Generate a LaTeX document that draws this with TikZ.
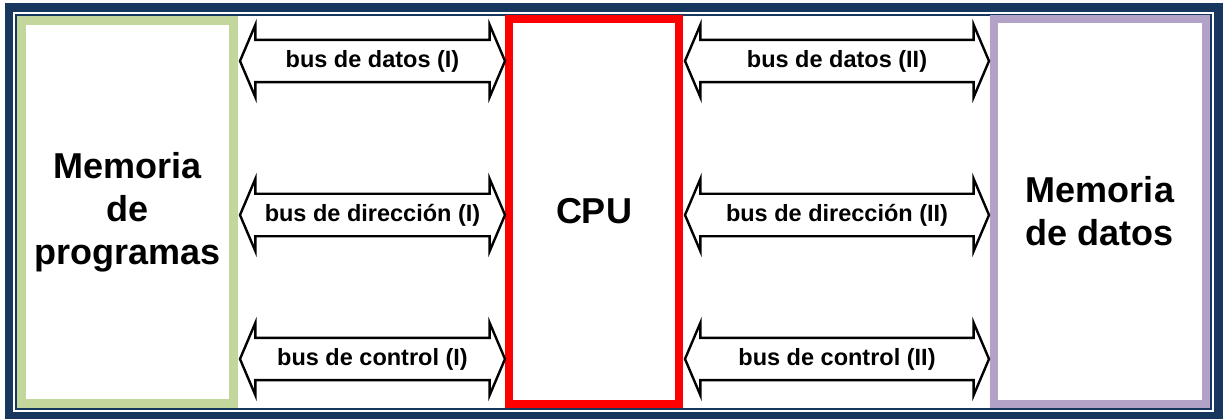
\documentclass[tikz,border=0pt]{standalone}
\usepackage{fontspec}
\setmainfont{Liberation Sans}
\usetikzlibrary{shapes.arrows}
\definecolor{navy}{RGB}{23,55,94}
\definecolor{progreen}{RGB}{195,214,155}
\definecolor{datpurple}{RGB}{179,162,199}
\tikzset{
  unitbox/.style={draw, fill=white, inner sep=0pt, align=center,
    font=\fontsize{36}{43}\selectfont\bfseries},
  bus/.style={double arrow, draw=black, fill=white, line width=2.4pt,
    minimum height=265pt, minimum width=66pt, double arrow head extend=15pt,
    double arrow tip angle=134, inner sep=0pt, inner ysep=9pt,
    font=\fontsize{23.5}{26}\selectfont\bfseries},
}
\begin{document}
\begin{tikzpicture}[x=1pt,y=-1pt]
\useasboundingbox (0,0) rectangle (1232,419);
% outer frame
\draw[navy, line width=8.5pt] (9,7.5) rectangle (1218.5,416);
\draw[navy, line width=2pt] (16,15) rectangle (1210.5,409.5);
% boxes
\node[unitbox, draw=progreen, line width=9pt, minimum width=212pt, minimum height=383pt] (prog) at (127.5,212) {Memoria\\de\\programas};
\node[unitbox, draw=red, line width=8pt, minimum width=170pt, minimum height=385pt] (cpu) at (594,211.5) {CPU};
\node[unitbox, draw=datpurple, line width=8pt, minimum width=212pt, minimum height=385pt] (dat) at (1100,211.5) {Memoria\\de datos};
% buses
\node[bus, minimum height=265pt] (d1) at (372.5,61) {bus de datos (I)};
\node[bus, minimum height=265pt] (a1) at (372.5,215) {bus de dirección (I)};
\node[bus, minimum height=265pt] (c1) at (372.5,359) {bus de control (I)};
\node[bus, minimum height=304pt] (d2) at (837,61) {bus de datos (II)};
\node[bus, minimum height=304pt] (a2) at (837,215) {bus de dirección (II)};
\node[bus, minimum height=304pt] (c2) at (837,359) {bus de control (II)};
\end{tikzpicture}
\end{document}
